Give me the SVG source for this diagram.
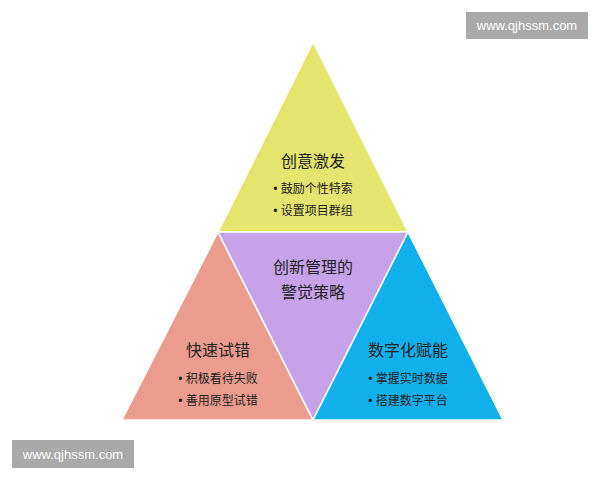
<svg xmlns="http://www.w3.org/2000/svg" width="600" height="480" viewBox="0 0 600 480">
<style>
.t{stroke:#fff;stroke-width:1.5;stroke-linejoin:round}
.h{font-family:"Liberation Sans","Noto Sans CJK SC",sans-serif;font-size:16px;fill:#222;text-anchor:middle}
.b{font-family:"Liberation Sans","Noto Sans CJK SC",sans-serif;font-size:12px;fill:#222;text-anchor:middle}
.w{font-family:"Liberation Sans",sans-serif;font-size:13px;fill:#fff;text-anchor:middle}
</style>
<rect width="600" height="480" fill="#fff"/>
<g id="top"><polygon class="t" points="313,42 408,232 218,232" fill="#e4e46e"/>
<text class="h" x="313" y="167">创意激发</text>
<text class="b" x="313" y="193">• 鼓励个性特索</text>
<text class="b" x="313" y="215">• 设置项目群组</text></g>
<g id="left"><polygon class="t" points="218,232 313,420 122,420" fill="#ec9c8e"/>
<text class="h" x="218" y="356">快速试错</text>
<text class="b" x="218" y="383">• 积极看待失败</text>
<text class="b" x="218" y="405">• 善用原型试错</text></g>
<g id="center"><polygon class="t" points="218,232 408,232 313,420" fill="#c7a2ea"/>
<text class="h" x="313" y="273">创新管理的</text>
<text class="h" x="313" y="298">警觉策略</text></g>
<g id="right"><polygon class="t" points="408,232 503,420 313,420" fill="#10b0ec"/>
<text class="h" x="408" y="356">数字化赋能</text>
<text class="b" x="408" y="383">• 掌握实时数据</text>
<text class="b" x="408" y="405">• 搭建数字平台</text></g>
<g id="connectors"/>
<g id="wm1"><rect x="466" y="12" width="122" height="27" fill="#a9a9a9"/><text class="w" x="527" y="30">www.qjhssm.com</text></g>
<g id="wm2"><rect x="12" y="440" width="122" height="28" fill="#a9a9a9"/><text class="w" x="73" y="459">www.qjhssm.com</text></g>
</svg>
